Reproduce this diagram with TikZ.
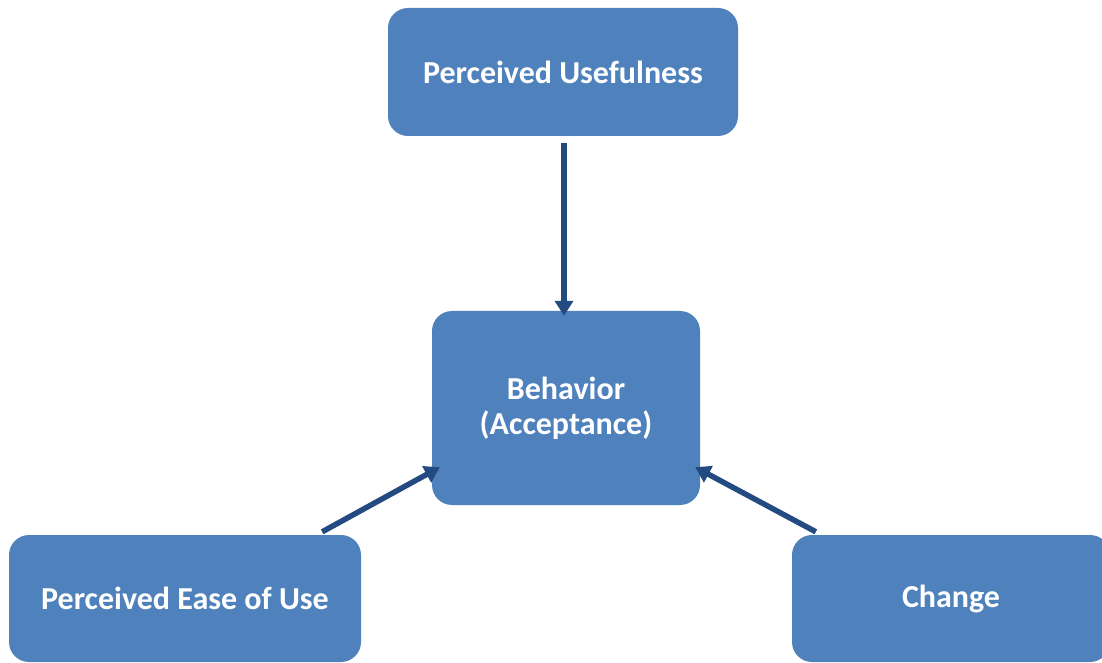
\documentclass[tikz,border=0pt]{standalone}
\usepackage{fontspec}
\setmainfont{Carlito}
\usetikzlibrary{arrows.meta}
\definecolor{officeblue}{RGB}{79, 129, 189}
\definecolor{navyarrow}{RGB}{35, 75, 130}

\begin{document}
\begin{tikzpicture}[x=1pt, y=1pt,
        tambox/.style={fill=officeblue, draw=none, rounded corners=20pt, text=white,
                       font=\fontsize{32}{35}\selectfont\bfseries, align=center, inner sep=0pt},
        tamarrow/.style={draw=navyarrow, line width=5.5pt, -{Triangle[width=18pt, length=15pt]}}]
            \clip (0, 0) rectangle (1102, 662);
            \node[tambox, minimum width=350pt, minimum height=128pt] (useful) at ( 563.0, 590.0) {Perceived Usefulness};
            \node[tambox, minimum width=268pt, minimum height=194pt] (behav)  at ( 566.0, 254.0) {Behavior\\(Acceptance)};
            \node[tambox, minimum width=352pt, minimum height=127pt] (ease)   at ( 185.0,  63.5) {Perceived Ease of Use};
            \node[tambox, minimum width=318pt, minimum height=127pt] (change) at ( 951.0,  63.5) {Change};
            % arrows into the behaviour box
            \coordinate (usefulout) at ([xshift=  1pt, yshift= -7pt]useful.south);
            \coordinate (behavtop)  at ([xshift= -2pt, yshift= -5pt]behav.north);
            \coordinate (easeout)   at ([xshift=-39pt, yshift=  3pt]ease.north east);
            \coordinate (behavleft) at ([xshift=  8pt, yshift= 38pt]behav.south west);
            \coordinate (changeout) at ([xshift= 24pt, yshift=  3pt]change.north west);
            \coordinate (behavright)at ([xshift= -5pt, yshift= 38pt]behav.south east);
            \draw[tamarrow] (usefulout) -- (behavtop);
            \draw[tamarrow] (easeout)   -- (behavleft);
            \draw[tamarrow] (changeout) -- (behavright);
        \end{tikzpicture}
\end{document}
